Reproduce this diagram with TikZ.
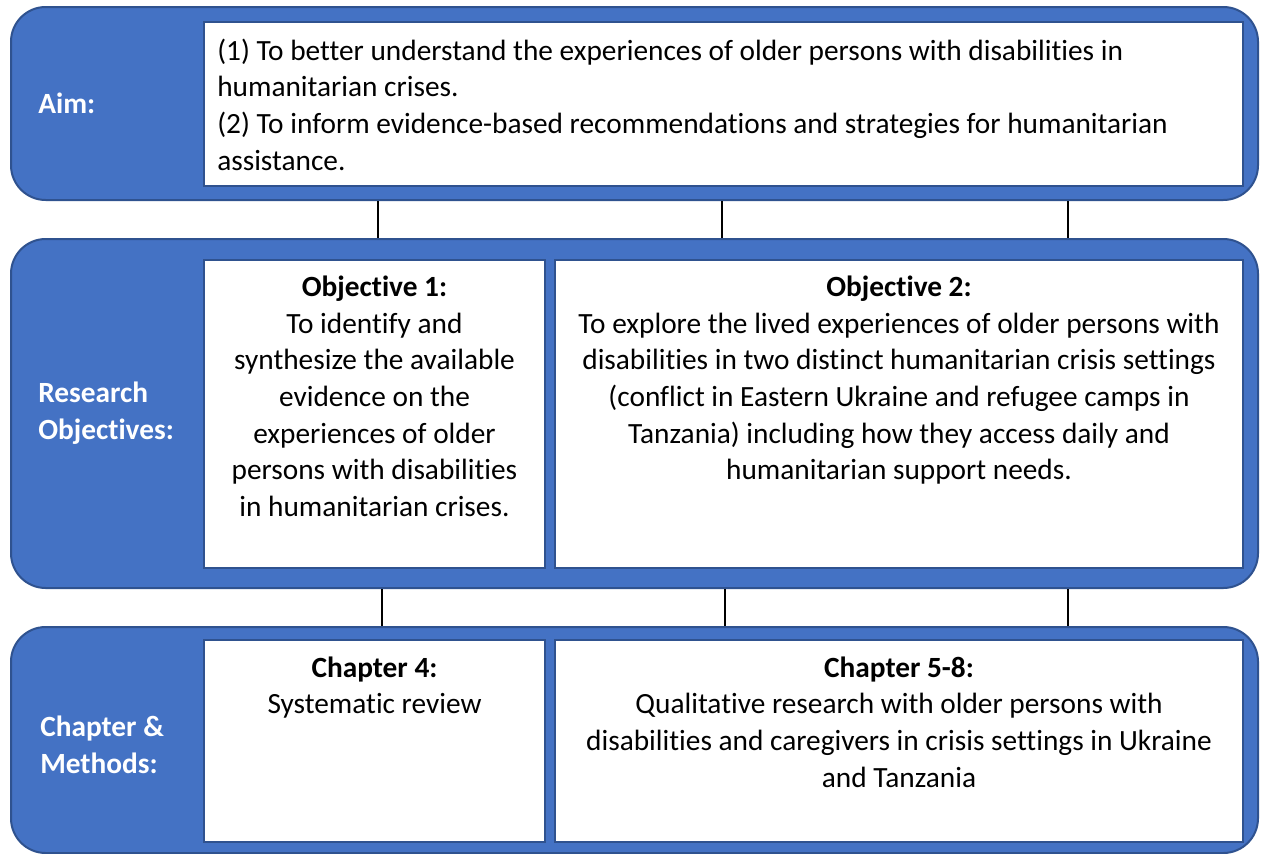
\documentclass[tikz,border=0pt]{standalone}
\usepackage{fontspec}
\setmainfont{Carlito}[Ligatures=NoCommon]
\usetikzlibrary{fit,positioning}
\definecolor{bandblue}{HTML}{4472C4}
\definecolor{edgeblue}{HTML}{2F528F}
\tikzset{
  band/.style={draw=edgeblue, fill=bandblue, line width=1.5pt, rounded corners=26pt, inner sep=0pt},
  whitebox/.style={draw=edgeblue, fill=white, line width=1.5pt, inner sep=0pt},
  headtext/.style={text=white, font=\bfseries\fontsize{22}{27.5}\selectfont, align=left, anchor=west, inner sep=0pt},
  bodytext/.style={font=\fontsize{22}{27.5}\selectfont, inner sep=0pt, anchor=north, align=center},
  link/.style={line width=1.5pt}
}
\begin{document}
\begin{tikzpicture}[x=0.75pt,y=-0.75pt]
\useasboundingbox (0,0) rectangle (1265,854);

% the three bands
\node[band, fit={(11,7) (1258,200)}] (aimband) {};
\node[band, fit={(11,239) (1258,588)}] (objband) {};
\node[band, fit={(11,627) (1258,853)}] (chapband) {};

% white boxes
\node[whitebox, fit={(204,22) (1243,186)}] (aimbox) {};
\node[whitebox, fit={(204,260) (545,568)}] (obj1box) {};
\node[whitebox, fit={(555,260) (1243,568)}] (obj2box) {};
\node[whitebox, fit={(204,640) (545,842)}] (chap4box) {};
\node[whitebox, fit={(555,640) (1243,842)}] (chap58box) {};

% links between bands
\foreach \x [count=\i] in {378,722,1068} {
  \coordinate (up\i) at (\x,0);
  \draw[link] (aimband.south -| up\i) -- (objband.north -| up\i);
}
\foreach \x [count=\i] in {382,725,1068} {
  \coordinate (dn\i) at (\x,0);
  \draw[link] (objband.south -| dn\i) -- (chapband.north -| dn\i);
}

% row headings
\node[headtext] (aimlbl) at (38,103) {Aim:};
\node[headtext] (objlbl) at (38,413) {Research\\Objectives:};
\node[headtext] (chaplbl) at (40,745) {Chapter \&\\Methods:};

% box texts
\node[bodytext, anchor=north west, align=left] (aimtxt) at ([xshift=10.5pt,yshift=-13pt]aimbox.north west)
  {(1) To better understand the experiences of older persons with disabilities in\\humanitarian crises.\\(2) To inform evidence-based recommendations and strategies for humanitarian\\assistance.};
\node[bodytext] (obj1txt) at ([yshift=-12.5pt]obj1box.north)
  {\textbf{Objective 1:}\\To identify and\\synthesize the available\\evidence on the\\experiences of older\\persons with disabilities\\in humanitarian crises.};
\node[bodytext] (obj2txt) at ([yshift=-12.5pt]obj2box.north)
  {\textbf{Objective 2:}\\To explore the lived experiences of older persons with\\disabilities in two distinct humanitarian crisis settings\\(conflict in Eastern Ukraine and refugee camps in\\Tanzania) including how they access daily and\\humanitarian support needs.};
\node[bodytext] (chap4txt) at ([yshift=-13pt]chap4box.north)
  {\textbf{Chapter 4:}\\Systematic review};
\node[bodytext] (chap58txt) at ([yshift=-13pt]chap58box.north)
  {\textbf{Chapter 5-8:}\\Qualitative research with older persons with\\disabilities and caregivers in crisis settings in Ukraine\\and Tanzania};
\end{tikzpicture}
\end{document}
